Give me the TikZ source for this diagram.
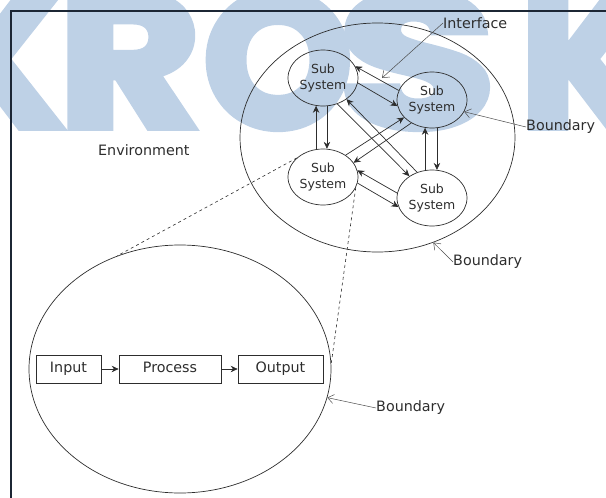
\documentclass[tikz,border=0pt]{standalone}
\usepackage{fontspec}
\setmainfont{DejaVu Sans}
\newfontfamily\wmfont{Poppins}[BoldFeatures={FakeBold=4}]
\usetikzlibrary{arrows.meta,shapes.geometric}
\definecolor{wm}{RGB}{190,209,230}
\definecolor{ln}{RGB}{45,45,45}
\definecolor{frm}{RGB}{28,38,52}
\begin{document}
\begin{tikzpicture}[x=1pt,y=-1pt,
  wmtxt/.style={inner sep=0pt, text=wm, font=\wmfont\bfseries\fontsize{190}{190}\selectfont},
  sub/.style={draw=ln, line width=0.7pt, ellipse, minimum width=70pt, minimum height=56pt, inner sep=0pt, align=center, font=\fontsize{12.5}{16}\selectfont, text=ln},
  big/.style={draw=ln, line width=0.7pt, ellipse, inner sep=0pt},
  lbl/.style={inner sep=0pt, text=ln, font=\fontsize{14.3}{17}\selectfont},
  box/.style={draw=ln, line width=0.7pt, rectangle, minimum height=28pt, inner sep=0pt, text height=10.5pt, text depth=3pt, font=\fontsize{14.3}{17}\selectfont, text=ln},
  flow/.style={draw=ln, line width=0.7pt, -{Stealth[length=7pt,width=6.5pt]}},
  ptr/.style={draw=ln!85, line width=0.5pt, -{Straight Barb[length=6pt,width=9pt]}},
  dsh/.style={draw=ln, line width=0.6pt, dash pattern=on 3pt off 3pt}
]
\useasboundingbox (0,0) rectangle (606,498);
% watermark
\node[wmtxt, anchor=base east] (w1) at (64,127) {K};
\node[wmtxt, anchor=base west] (w2) at (58,127) {\scalebox{1.15}[1]{R}};
\node[wmtxt, anchor=base west] (w3) at (203,127) {O};
\node[wmtxt, anchor=base west] (w4) at (338,127) {\scalebox{1.35}[1]{S}};
\node[wmtxt, anchor=base west] (w5) at (520,127) {K};
% frame
\coordinate (f1) at (11,510);
\coordinate (f2) at (11,11);
\coordinate (f3) at (620,11);
\draw[frm, line width=1.6pt] (f1) -- (f2) -- (f3);
% big ellipses
\node[big, minimum width=275pt, minimum height=229pt] (sys) at (377.5,137.5) {};
\node[big, minimum width=302pt, minimum height=248pt] (proc) at (180,369) {};
% subsystems
\node[sub] (ss1) at (323,78) {Sub\\System};
\node[sub] (ss2) at (432,100) {Sub\\System};
\node[sub] (ss3) at (323,177) {Sub\\System};
\node[sub] (ss4) at (432,198) {Sub\\System};
% arrows between subsystems
\draw[flow] (ss3.104) -- (ss1.256);
\draw[flow] (ss1.-82) -- (ss3.82);
\draw[flow] (ss4.104) -- (ss2.256);
\draw[flow] (ss2.-80) -- (ss4.80);
\draw[flow] (ss2.164) -- (ss1.20);
\draw[flow] (ss1.-8) -- (ss2.190);
\draw[flow] (ss4.172) -- (ss3.11);
\draw[flow] (ss3.-10) -- (ss4.195);
\draw[flow] (ss3.44) -- (ss2.212);
\draw[flow] (ss2.228) -- (ss3.25);
\draw[flow] (ss1.-61) -- (ss4.136);
\draw[flow] (ss4.120) -- (ss1.-42);
% labels
\node[lbl, anchor=west] (iface) at (443,23) {Interface};
\node[lbl, anchor=west] (b1) at (526,127) {Boundary};
\node[lbl, anchor=west] (b2) at (453,262) {Boundary};
\node[lbl, anchor=west] (b3) at (376,408) {Boundary};
\node[lbl, anchor=west] (env) at (98,150) {Environment};
\coordinate (ifp) at (382,78);
\draw[ptr] (iface.west) -- (ifp);
\draw[ptr] (b1.west) -- (ss2.-20);
\draw[ptr] (b2.west) -- (sys.-62);
\draw[ptr] (b3.west) -- (proc.-11);
% dashed zoom lines
\draw[dsh] (ss3.144) -- (proc.119);
\draw[dsh] (ss3.-18) -- (proc.2);
% process chain
\node[box, minimum width=65pt] (in) at (68.5,369) {Input};
\node[box, minimum width=102pt] (pr) at (170,369) {Process};
\node[box, minimum width=85pt] (out) at (280.5,369) {Output};
\draw[flow] (in) -- (pr);
\draw[flow] (pr) -- (out);
\end{tikzpicture}
\end{document}
